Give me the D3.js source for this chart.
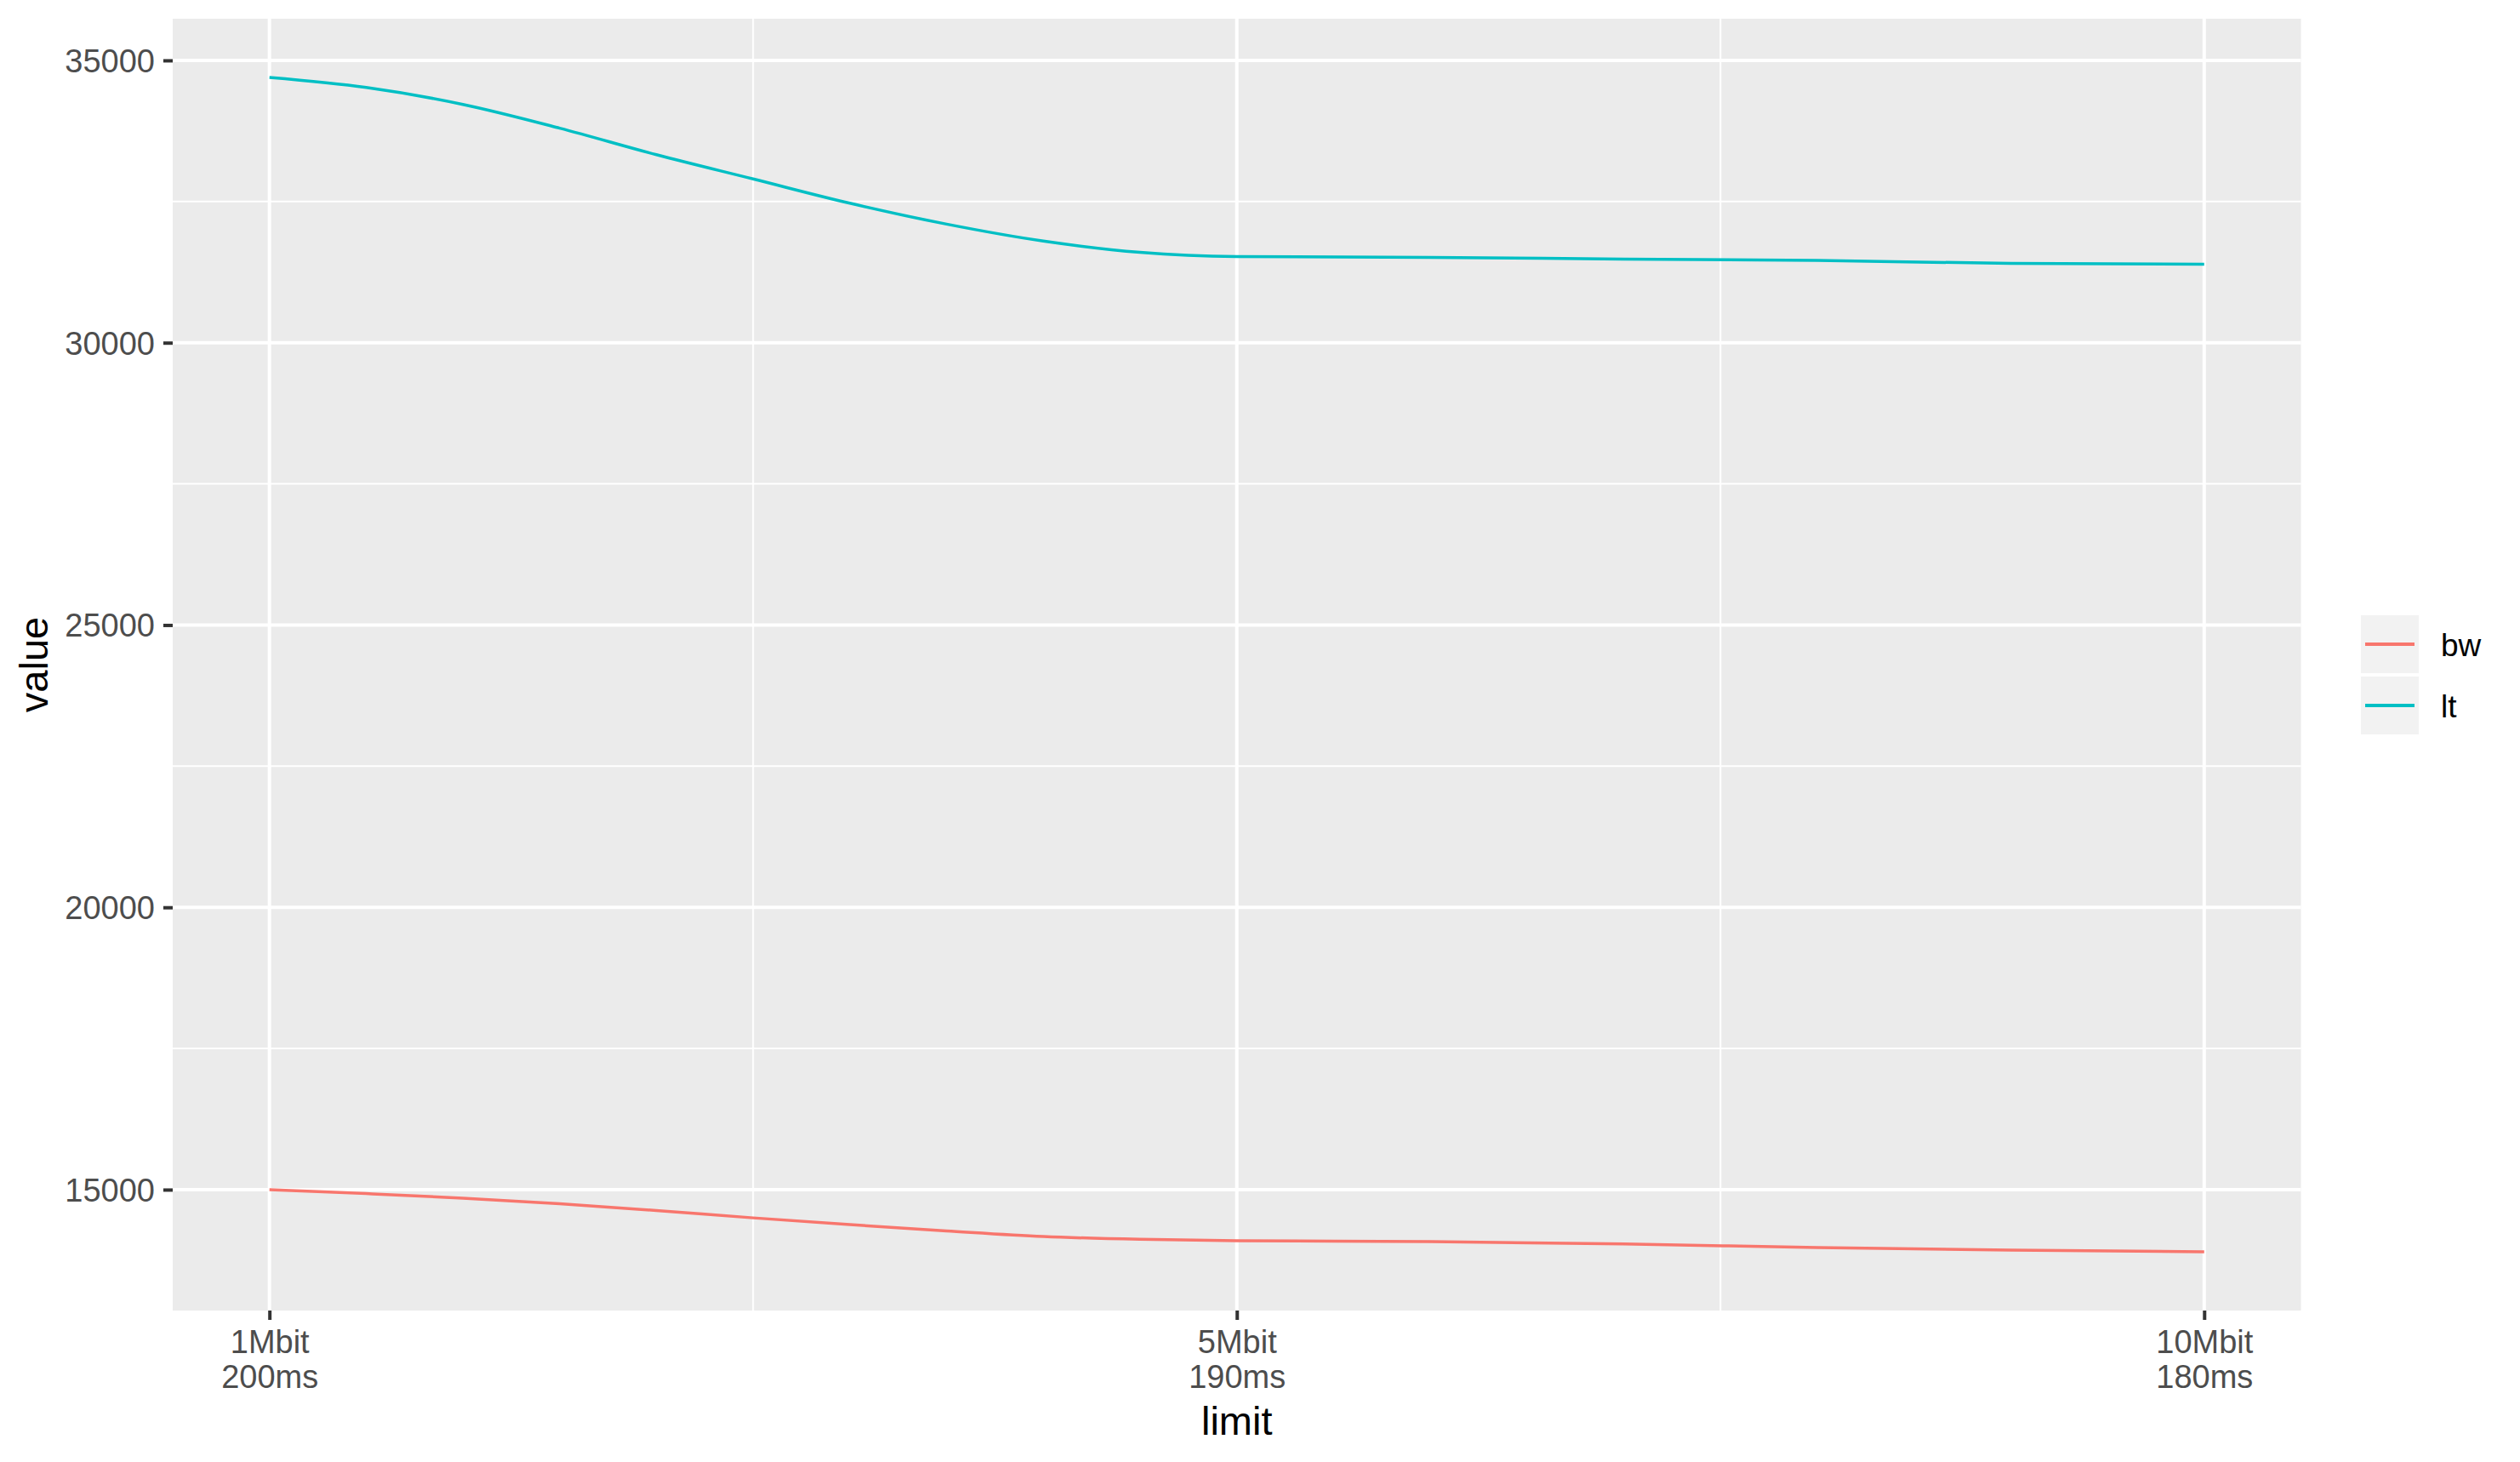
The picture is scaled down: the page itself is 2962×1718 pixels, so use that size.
<!DOCTYPE html>
<html>
<head>
<meta charset="utf-8">
<script src="https://cdn.jsdelivr.net/npm/d3@7"></script>
<style>
  body { margin: 0; background: #fff; }
  text { font-family: "Liberation Sans", Arial, sans-serif; }
</style>
</head>
<body>
<script>
// limit index along x (0 = 1Mbit/200ms, 5 = 5Mbit/190ms, 10 = 10Mbit/180ms)
var limitIdx = [0, 0.5, 1, 1.5, 2, 2.5, 3, 3.5, 4, 4.5, 5, 6, 7, 8, 9, 10];
var bwValues = [15000, 14930, 14850, 14750, 14630, 14500, 14380, 14270, 14170, 14120, 14095, 14080, 14038, 13975, 13930, 13899];
var ltValues = [34698, 34520, 34220, 33800, 33330, 32900, 32470, 32100, 31800, 31600, 31526, 31511, 31481, 31456, 31405, 31390];
var seriesNames = ["bw", "lt"];
var seriesColors = ["#F8766D", "#00BFC4"];
var xTickValues = [0, 5, 10];
var xTickLabels = [["1Mbit", "200ms"], ["5Mbit", "190ms"], ["10Mbit", "180ms"]];
var xMinorValues = [2.5, 7.5];
var yTickValues = [15000, 20000, 25000, 30000, 35000];
var yMinorValues = [17500, 22500, 27500, 32500];

var width = 2962,
    height = 1718,
    panel = { left: 203, right: 2704.5, top: 22, bottom: 1540 };

var series = seriesNames.map(function(name, i) {
  var vals = i === 0 ? bwValues : ltValues;
  return { name: name, color: seriesColors[i],
           points: limitIdx.map(function(x, j) { return { x: x, y: vals[j] }; }) };
});

// ggplot-style 5% expansion
var yAll = bwValues.concat(ltValues);
var yMin = d3.min(yAll), yMax = d3.max(yAll), yPad = (yMax - yMin) * 0.05;
var xMin = d3.min(limitIdx), xMax = d3.max(limitIdx), xPad = (xMax - xMin) * 0.05;

var x = d3.scaleLinear()
    .domain([xMin - xPad, xMax + xPad])
    .range([panel.left, panel.right]);

var y = d3.scaleLinear()
    .domain([yMin - yPad, yMax + yPad])
    .range([panel.bottom, panel.top]);

var svg = d3.select("body").append("svg")
    .attr("width", width)
    .attr("height", height);

svg.append("rect")
    .attr("x", panel.left)
    .attr("y", panel.top)
    .attr("width", panel.right - panel.left)
    .attr("height", panel.bottom - panel.top)
    .attr("fill", "#EBEBEB");

var grid = svg.append("g");
grid.selectAll("line.ymin")
    .data(yMinorValues)
  .enter().append("line")
    .attr("x1", panel.left).attr("x2", panel.right)
    .attr("y1", y).attr("y2", y)
    .attr("stroke", "#fff").attr("stroke-width", 2);
grid.selectAll("line.xmin")
    .data(xMinorValues)
  .enter().append("line")
    .attr("y1", panel.top).attr("y2", panel.bottom)
    .attr("x1", x).attr("x2", x)
    .attr("stroke", "#fff").attr("stroke-width", 2);
grid.selectAll("line.ymaj")
    .data(yTickValues)
  .enter().append("line")
    .attr("x1", panel.left).attr("x2", panel.right)
    .attr("y1", y).attr("y2", y)
    .attr("stroke", "#fff").attr("stroke-width", 4);
grid.selectAll("line.xmaj")
    .data(xTickValues)
  .enter().append("line")
    .attr("y1", panel.top).attr("y2", panel.bottom)
    .attr("x1", x).attr("x2", x)
    .attr("stroke", "#fff").attr("stroke-width", 4);

var line = d3.line()
    .x(function(d) { return x(d.x); })
    .y(function(d) { return y(d.y); })
    .curve(d3.curveMonotoneX);

svg.selectAll("path.series")
    .data(series)
  .enter().append("path")
    .attr("class", "series")
    .attr("d", function(d) { return line(d.points); })
    .attr("fill", "none")
    .attr("stroke", function(d) { return d.color; })
    .attr("stroke-width", 3.5);

// axes
var yAxis = svg.append("g")
    .attr("transform", "translate(" + panel.left + ",0)")
    .call(d3.axisLeft(y).tickValues(yTickValues).tickSize(11).tickPadding(10).tickFormat(d3.format("d")));
var xAxis = svg.append("g")
    .attr("transform", "translate(0," + panel.bottom + ")")
    .call(d3.axisBottom(x).tickValues(xTickValues).tickSize(11).tickPadding(10));

[xAxis, yAxis].forEach(function(ax) {
  ax.select(".domain").remove();
  ax.selectAll(".tick line").attr("stroke", "#333333").attr("stroke-width", 4);
  ax.selectAll(".tick text")
      .attr("fill", "#4D4D4D")
      .style("font-size", "38px")
      .style("font-family", "'Liberation Sans', Arial, sans-serif");
});
yAxis.selectAll(".tick text").attr("dy", "0.35em");

xAxis.selectAll(".tick text").each(function(d, i) {
  var t = d3.select(this).text("").attr("dy", null).attr("y", 0);
  xTickLabels[i].forEach(function(s, k) {
    t.append("tspan").attr("x", 0).attr("y", 50 + k * 41).text(s);
  });
});

svg.append("text")
    .attr("x", (panel.left + panel.right) / 2)
    .attr("y", 1686)
    .attr("text-anchor", "middle")
    .style("font-size", "47px")
    .attr("fill", "#000")
    .text("limit");

svg.append("text")
    .attr("transform", "translate(56," + ((panel.top + panel.bottom) / 2) + ") rotate(-90)")
    .attr("text-anchor", "middle")
    .style("font-size", "47px")
    .attr("fill", "#000")
    .text("value");

// legend
var legend = svg.append("g");
var keys = legend.selectAll("g")
    .data(series)
  .enter().append("g")
    .attr("transform", function(d, i) { return "translate(2775," + (723 + i * 72) + ")"; });
keys.append("rect")
    .attr("width", 68).attr("height", 68)
    .attr("fill", "#F2F2F2");
keys.append("line")
    .attr("x1", 5).attr("x2", 63)
    .attr("y1", 34).attr("y2", 34)
    .attr("stroke", function(d) { return d.color; })
    .attr("stroke-width", 4);
keys.append("text")
    .attr("x", 94).attr("y", 48)
    .style("font-size", "37px")
    .attr("fill", "#000")
    .text(function(d) { return d.name; });
</script>
</body>
</html>
